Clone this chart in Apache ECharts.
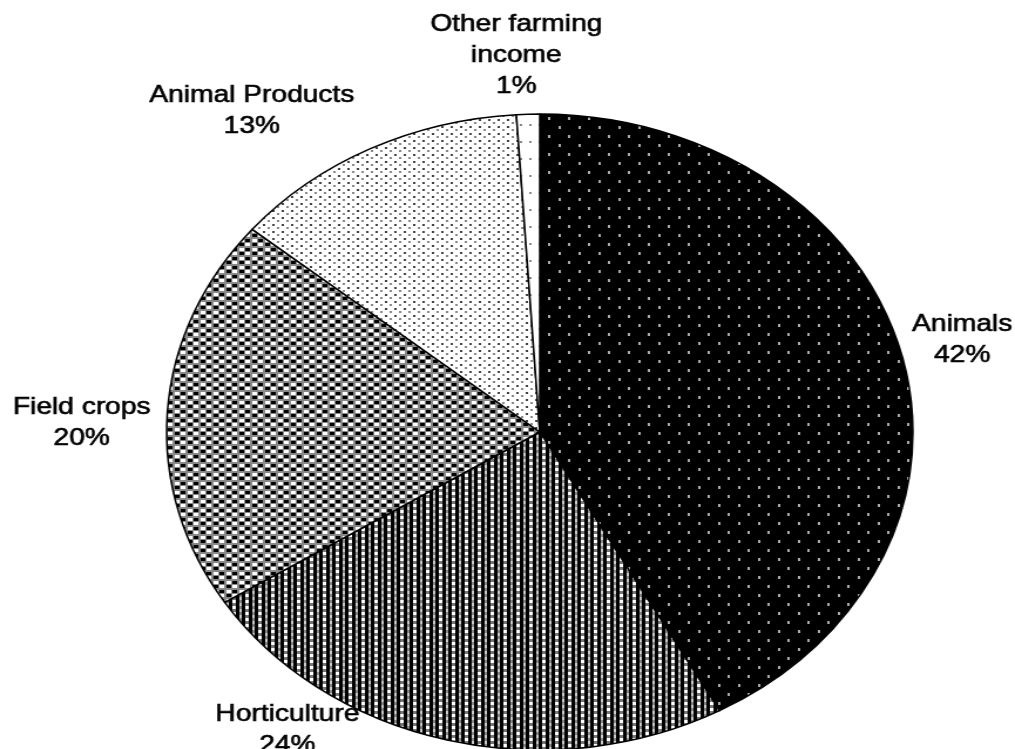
<!DOCTYPE html>
<html>
<head>
<meta charset="utf-8">
<script src="https://cdn.jsdelivr.net/npm/echarts@6/dist/echarts.min.js"></script>
<style>
  html, body { margin: 0; padding: 0; background: #fff; overflow: hidden; }
  #wrap { width: 1015px; height: 749px; overflow: hidden; position: relative; }
  /* The pie is drawn round, then widened so it reads as an oval */
  #chart { position: absolute; left: 0; top: 0; width: 865px; height: 749px;
           transform: scaleX(1.1734); transform-origin: 0 0; }
</style>
</head>
<body>
<div id="wrap"><div id="chart"></div></div>
<script>
// Farm income shares (%)
const categories = ['Animals', 'Horticulture', 'Field crops', 'Animal Products', 'Other farming\nincome'];
const shares = [42, 24, 20, 13, 1];

// Label nudges from the default outside anchor [dx, dy]
const labelNudge = [[47, -13], [-131, -10], [-68, 11], [-96, -38], [-5, -59]];

// Small repeating tiles that give each slice its dotted texture
function tile(w, h, bg, dots) {
  const c = document.createElement('canvas');
  c.width = w; c.height = h;
  const g = c.getContext('2d');
  g.fillStyle = bg; g.fillRect(0, 0, w, h);
  dots.forEach(d => { g.fillStyle = d[4]; g.fillRect(d[0], d[1], d[2], d[3]); });
  return { image: c, repeat: 'repeat' };
}

const fills = [
  tile(17, 18, '#000', [[0, 0, 2, 3, '#aaa'], [8, 9, 2, 3, '#aaa']]),
  tile(11, 6, '#000', [[0, 0, 3, 3, '#fff'], [0, 3, 3, 3, '#777'], [6, 0, 2, 3, '#888'], [6, 3, 2, 3, '#ccc']]),
  tile(11, 9, '#888', [[0, 0, 4, 3, '#fff'], [6, 0, 4, 3, '#000'], [0, 5, 4, 3, '#000'], [6, 5, 4, 3, '#fff']]),
  tile(8, 7, '#fff', [[0, 0, 2, 2, '#444'], [4, 3, 2, 2, '#888']]),
  tile(8, 17, '#fff', [[3, 5, 2, 2, '#888']])
];

const chart = echarts.init(document.getElementById('chart'), null, { renderer: 'canvas' });
chart.setOption({
  animation: false,
  backgroundColor: '#fff',
  series: [{
    type: 'pie',
    center: [460, 432],
    radius: 318,
    startAngle: 90,
    clockwise: true,
    avoidLabelOverlap: false,
    itemStyle: { borderColor: '#000', borderWidth: 1.5 },
    label: {
      show: true,
      position: 'outside',
      formatter: p => p.name + '\n' + p.value + '%',
      fontFamily: '"Liberation Sans", Arial, sans-serif',
      fontSize: 24,
      lineHeight: 31,
      color: '#000',
      textBorderColor: '#000',
      textBorderWidth: 0.6,
      align: 'center'
    },
    labelLine: { show: false, length: 0, length2: 0 },
    labelLayout: p => ({
      align: 'center',
      verticalAlign: 'middle',
      dx: labelNudge[p.dataIndex][0],
      dy: labelNudge[p.dataIndex][1]
    }),
    emphasis: { disabled: true },
    data: categories.map((name, i) => ({
      name: name,
      value: shares[i],
      itemStyle: { color: fills[i] }
    }))
  }]
});
</script>
</body>
</html>
